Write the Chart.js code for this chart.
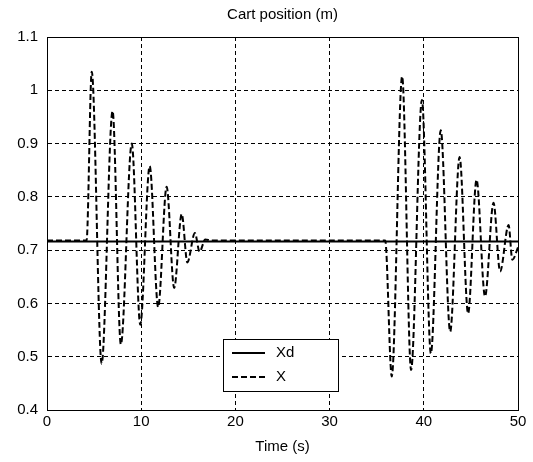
<!DOCTYPE html>
<html>
<head>
<meta charset="utf-8">
<script src="https://cdn.jsdelivr.net/npm/chart.js@4/dist/chart.umd.min.js"></script>
<style>
html,body{margin:0;padding:0;background:#fff;}
#wrap{width:533px;height:462px;}
</style>
</head>
<body>
<div id="wrap"><canvas id="c" width="533" height="462"></canvas></div>
<script>
// ---- data ----
const chartTitle = "Cart position (m)";
const xAxisTitle = "Time (s)";
const seriesNames = ["Xd", "X"];
const xTickLabels = ["0", "10", "20", "30", "40", "50"];
const yTickLabels = ["0.4", "0.5", "0.6", "0.7", "0.8", "0.9", "1", "1.1"];

const xdTime  = [0, 50];
const xdValue = [0.716, 0.716];

const xTime = [0, 4.2, 4.75, 5.8, 6.96, 7.84, 9.0, 9.9, 10.9, 11.8, 12.7, 13.5, 14.3, 14.9, 15.7, 16.2, 16.8, 17.5,
               35.9, 36.6, 37.7, 38.65, 39.8, 40.75, 41.8, 42.8, 43.8, 44.7, 45.6, 46.5, 47.4, 48.1, 49.0, 49.4, 50];
const xValue = [0.718, 0.718, 1.035, 0.487, 0.961, 0.523, 0.900, 0.560, 0.858, 0.593, 0.819, 0.629, 0.768, 0.677, 0.732, 0.697, 0.720, 0.718,
               0.718, 0.463, 1.026, 0.475, 0.982, 0.506, 0.925, 0.547, 0.875, 0.581, 0.832, 0.613, 0.789, 0.660, 0.747, 0.682, 0.705];

const toPts = (t, v) => t.map((x, i) => ({x: x, y: v[i]}));

const FONT = "'Liberation Sans', Arial, sans-serif";

const frame = {
  id: 'frame',
  afterDatasetsDraw(chart) {
    const {ctx, chartArea: a} = chart;
    ctx.save();
    ctx.strokeStyle = '#000';
    ctx.lineWidth = 1;
    ctx.setLineDash([]);
    ctx.strokeRect(Math.round(a.left) + 0.5, Math.round(a.top) + 0.5,
                   Math.round(a.right - a.left), Math.round(a.bottom - a.top));
    ctx.restore();
  }
};

const legendBox = {
  id: 'legendBox',
  afterDraw(chart) {
    const ctx = chart.ctx;
    const bx = 223, by = 339, bw = 115, bh = 52;
    ctx.save();
    ctx.fillStyle = '#fff';
    ctx.fillRect(bx, by, bw, bh);
    ctx.strokeStyle = '#000';
    ctx.lineWidth = 1;
    ctx.strokeRect(bx + 0.5, by + 0.5, bw, bh);
    const rows = [353, 377];
    chart.data.datasets.forEach((ds, i) => {
      const y = rows[i];
      ctx.beginPath();
      ctx.lineWidth = 2;
      ctx.setLineDash(ds.borderDash || []);
      ctx.moveTo(232, y);
      ctx.lineTo(265, y);
      ctx.stroke();
      ctx.setLineDash([]);
      ctx.fillStyle = '#000';
      ctx.font = "15px " + FONT;
      ctx.textBaseline = 'middle';
      ctx.textAlign = 'left';
      ctx.fillText(ds.label, 276, y);
    });
    ctx.restore();
  }
};

new Chart(document.getElementById('c'), {
  type: 'line',
  data: {
    datasets: [
      {label: seriesNames[0], data: toPts(xdTime, xdValue), borderColor: '#000', borderWidth: 2,
       pointRadius: 0, fill: false, tension: 0},
      {label: seriesNames[1], data: toPts(xTime, xValue), borderColor: '#000', borderWidth: 2,
       borderDash: [6, 3], pointRadius: 0, fill: false, cubicInterpolationMode: 'monotone'}
    ]
  },
  options: {
    responsive: false,
    animation: false,
    devicePixelRatio: 1,
    layout: {padding: {left: 0, right: 15, top: 0, bottom: 0}},
    plugins: {
      legend: {display: false},
      tooltip: {enabled: false},
      title: {display: false}
    },
    scales: {
      x: {
        type: 'linear', min: 0, max: 50,
        ticks: {stepSize: 10, color: '#000', padding: 3, maxRotation: 0,
                font: {family: FONT, size: 15},
                callback: (v) => { const i = xTickLabels.indexOf(String(v)); return i >= 0 ? xTickLabels[i] : ''; }},
        grid: {color: '#000', lineWidth: 1, drawTicks: false},
        border: {display: true, color: '#000', dash: [4, 3]},
        title: {display: true, text: xAxisTitle, color: '#000',
                font: {family: FONT, size: 15}, padding: {top: 0, bottom: 6}},
        afterFit: (s) => { s.height = 52; }
      },
      xTop: {
        type: 'linear', position: 'top', min: 0, max: 50,
        ticks: {display: false},
        grid: {display: false, drawTicks: false},
        border: {display: false},
        title: {display: true, text: chartTitle, color: '#000',
                font: {family: FONT, size: 15}, padding: {top: 6, bottom: 0}},
        afterFit: (s) => { s.height = 37; }
      },
      y: {
        type: 'linear', min: 0.4, max: 1.1,
        ticks: {stepSize: 0.1, color: '#000', padding: 9,
                font: {family: FONT, size: 15},
                callback: (v, i) => yTickLabels[i]},
        grid: {color: '#000', lineWidth: 1, drawTicks: false},
        border: {display: true, color: '#000', dash: [4, 3]},
        afterFit: (s) => { s.width = 47; }
      }
    }
  },
  plugins: [frame, legendBox]
});
</script>
</body>
</html>
